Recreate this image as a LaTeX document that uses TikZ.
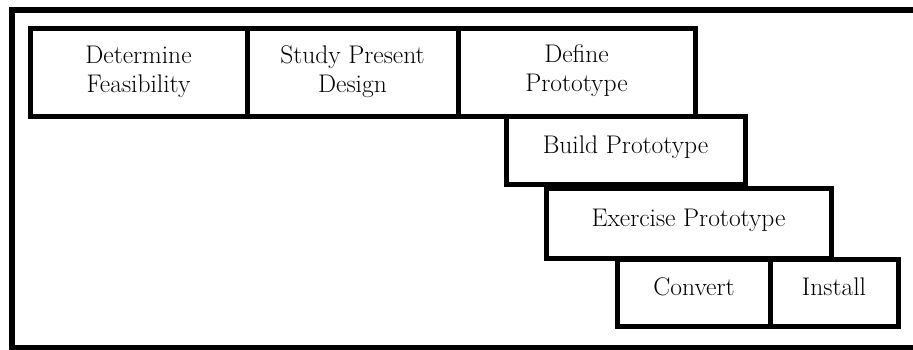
\documentclass[tikz,border=0pt]{standalone}
\begin{document}
\begin{tikzpicture}[x=1pt,y=-1pt,
  box/.style={draw=black,line width=5pt,rectangle,inner sep=0pt,outer sep=0pt},
  lbl/.style={font=\fontsize{25.5}{29}\selectfont,align=center,inner sep=0pt}]
\useasboundingbox (0,0) rectangle (913,349);
\clip (0,0) rectangle (913,349);
% outer frame (right side beyond picture)
\draw[line width=5.5pt] (925,10) -- (12,10) -- (12,348) -- (925,348);
% boxes
\node[box,minimum width=217pt,minimum height=88pt] (b1) at (138.5,72) {};
\node[box,minimum width=211pt,minimum height=88pt] (b2) at (352.5,72) {};
\node[box,minimum width=237pt,minimum height=88pt] (b3) at (576.5,72) {};
\node[box,minimum width=239pt,minimum height=68pt] (b4) at (625.5,150) {};
\node[box,minimum width=285pt,minimum height=70pt] (b5) at (688.5,223) {};
\node[box,minimum width=153pt,minimum height=67pt] (b6) at (693.5,292.5) {};
\node[box,minimum width=128pt,minimum height=67pt] (b7) at (834,292.5) {};
% labels
\node[lbl] (t1) at (b1.center) {Determine\\Feasibility};
\node[lbl] (t2) at (b2.center) {Study Present\\Design};
\node[lbl] (t3) at ([yshift=1pt]b3.center) {Define\\Prototype};
\node[lbl,anchor=base] (t4) at (625.5,153) {Build Prototype};
\node[lbl,anchor=base] (t5) at (688.5,226) {Exercise Prototype};
\node[lbl,anchor=base] (t6) at (694,295) {Convert};
\node[lbl,anchor=base] (t7) at (834,295) {Install};
\end{tikzpicture}
\end{document}
